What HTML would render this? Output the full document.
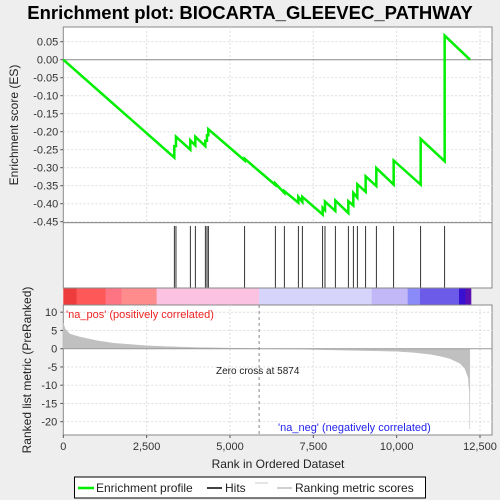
<!DOCTYPE html>
<html><head><meta charset="utf-8"><style>
body{margin:0;background:#eeeeee;}
svg{display:block;font-family:"Liberation Sans",sans-serif;}
</style></head><body>
<svg id="chart" width="500" height="500" xmlns="http://www.w3.org/2000/svg">
<rect x="0" y="0" width="500" height="500" fill="#eeeeee"/>
<text x="250" y="19" text-anchor="middle" font-size="18.5" font-weight="bold" fill="#000">Enrichment plot: BIOCARTA_GLEEVEC_PATHWAY</text>
<g id="topg"></g><g id="hitsg"></g><g id="cbarg"></g><g id="bottomg"></g>
</svg>
<script>
const hitRanks=[3330,3380,3810,3960,4260,4310,4350,5440,6360,6630,7050,7170,7780,7850,8160,8550,8700,8820,9070,9390,9910,10720,11440];
const esBefore=[-0.272,-0.240,-0.250,-0.238,-0.240,-0.225,-0.210,-0.280,-0.348,-0.370,-0.397,-0.395,-0.430,-0.418,-0.420,-0.426,-0.405,-0.383,-0.367,-0.351,-0.347,-0.347,-0.282];
const esAfter=[-0.240,-0.214,-0.224,-0.214,-0.225,-0.210,-0.193,-0.275,-0.344,-0.365,-0.381,-0.381,-0.411,-0.394,-0.391,-0.393,-0.370,-0.346,-0.324,-0.301,-0.280,-0.220,0.067];
const totalRanks=12200;
const esTicks=[0.05,0,-0.05,-0.1,-0.15,-0.2,-0.25,-0.3,-0.35,-0.4,-0.45];
const xTicks=[0,2500,5000,7500,10000,12500];
const metricRanks=[0,50,200,500,700,1000,1500,2500,3000,4000,5000,5874,7000,8000,9000,10000,10500,11000,11300,11600,11900,12050,12150,12185,12195];
const metricVals=[7,5.5,4,3.2,2.8,2.2,1.5,0.8,0.6,0.3,0.15,0,-0.1,-0.3,-0.5,-0.7,-1,-1.5,-2,-2.7,-4,-5.5,-8,-12,-22];
const metricTicks=[10,5,0,-5,-10,-15,-20];
const cbarStops=[0,400,1270,1750,2800,5870,9250,10330,10700,11870,12070,12230];
const cbarColors=['#ee3c3c','#ff5858','#ff7482','#ff8c8c','#fcc2e2','#d6d4fa','#c2b8f8','#8a8af8','#6c5ae8','#3a10d0','#5a10b0'];

const NS='http://www.w3.org/2000/svg';
const X0=63.3,X1=480;
const xs=r=>X0+(r/12500)*(X1-X0);
const ys=e=>59.7-e*360;
const ym=v=>348.7-v*3.65;
function mk(tag,attrs,parent){const el=document.createElementNS(NS,tag);for(const k in attrs)el.setAttribute(k,attrs[k]);parent.appendChild(el);return el;}
const topG=document.getElementById('topg'),hitsG=document.getElementById('hitsg'),cbG=document.getElementById('cbarg'),botG=document.getElementById('bottomg');
const L=63.3,R=492;
let p=mk('rect',{x:L,y:27,width:R-L,height:195.7,fill:'#fff',stroke:'#888'},topG);

p=mk('rect',{x:L,y:222.7,width:R-L,height:65.3,fill:'#fff',stroke:'#888'},hitsG);

p=mk('rect',{x:L,y:305,width:R-L,height:130,fill:'#fff',stroke:'#888'},botG);

xTicks.forEach(t=>{if(t>0){mk('line',{x1:xs(t),x2:xs(t),y1:27,y2:222,stroke:'#ddd','stroke-dasharray':'2,2'},topG);mk('line',{x1:xs(t),x2:xs(t),y1:305,y2:435,stroke:'#ddd','stroke-dasharray':'2,2'},botG);}});
esTicks.forEach(t=>{const y=ys(t);if(t!==0)mk('line',{x1:L,x2:R,y1:y,y2:y,stroke:'#ddd','stroke-dasharray':'2,2'},topG);
 mk('line',{x1:L-3,x2:L,y1:y,y2:y,stroke:'#555'},topG);
 const tx=mk('text',{x:L-5,y:y+4,'text-anchor':'end','font-size':11,fill:'#333'},topG);tx.textContent=t.toFixed(2);
 });
mk('line',{x1:L,x2:R,y1:ys(0),y2:ys(0),stroke:'#888'},topG);
let t=mk('text',{x:18,y:125,'text-anchor':'middle','font-size':12,fill:'#222',transform:'rotate(-90 18 125)'},topG);t.textContent='Enrichment score (ES)';

let pts=[[0,0]];hitRanks.forEach((r,i)=>{pts.push([r,esBefore[i]]);pts.push([r,esAfter[i]]);});pts.push([totalRanks,0]);
let ln=mk('polyline',{points:pts.map(q=>xs(q[0])+','+ys(q[1])).join(' '),fill:'none',stroke:'#00ee00','stroke-width':2.5},topG);

hitRanks.forEach(r=>{const h=mk('line',{x1:xs(r),x2:xs(r),y1:226,y2:288,stroke:'#000','stroke-width':0.8},hitsG);
 });
for(let i=0;i<cbarColors.length;i++){const x=xs(cbarStops[i]),w=xs(cbarStops[i+1])-x;
 const s=mk('rect',{x:x,y:288,width:w+0.3,height:17,fill:cbarColors[i]},cbG);
 }
mk('line',{x1:L,x2:R,y1:288,y2:288,stroke:'#888'},cbG);
mk('line',{x1:L,x2:R,y1:305,y2:305,stroke:'#888'},cbG);
metricTicks.forEach(v=>{const y=ym(v);if(v!==0)mk('line',{x1:L,x2:R,y1:y,y2:y,stroke:'#ddd','stroke-dasharray':'2,2'},botG);
 mk('line',{x1:L-3,x2:L,y1:y,y2:y,stroke:'#555'},botG);
 const tx=mk('text',{x:L-6,y:y+4,'text-anchor':'end','font-size':11,fill:'#333'},botG);tx.textContent=v;
 });
let mp='M'+xs(0)+','+ym(0);metricRanks.forEach((r,i)=>{mp+=' L'+xs(r)+','+ym(metricVals[i]);});mp+=' L'+xs(metricRanks[metricRanks.length-1])+','+ym(0)+'Z';
let ar=mk('path',{d:mp,fill:'#c0c0c0',stroke:'#c0c0c0','stroke-width':0.5},botG);

mk('line',{x1:L,x2:R,y1:ym(0),y2:ym(0),stroke:'#999'},botG);
mk('line',{x1:xs(5874),x2:xs(5874),y1:305,y2:435,stroke:'#888','stroke-dasharray':'3,3'},botG);
t=mk('text',{x:66,y:318,'font-size':11,fill:'#ee2222'},botG);t.textContent="'na_pos' (positively correlated)";

t=mk('text',{x:278,y:431,'font-size':11,fill:'#2222ee'},botG);t.textContent="'na_neg' (negatively correlated)";

t=mk('text',{x:216,y:374,'font-size':10,fill:'#222'},botG);t.textContent='Zero cross at 5874';

t=mk('text',{x:31,y:370,'text-anchor':'middle','font-size':12,fill:'#222',transform:'rotate(-90 31 370)'},botG);t.textContent='Ranked list metric (PreRanked)';

xTicks.forEach(v=>{const x=xs(v);mk('line',{x1:x,x2:x,y1:435,y2:438,stroke:'#555'},botG);
 const tx=mk('text',{x:x,y:450,'text-anchor':'middle','font-size':11,fill:'#333'},botG);tx.textContent=v.toLocaleString('en-US');
 });
t=mk('text',{x:278,y:468,'text-anchor':'middle','font-size':12,fill:'#222'},botG);t.textContent='Rank in Ordered Dataset';

const lg=mk('g',{},botG);

mk('rect',{x:74.5,y:477,width:351,height:21,fill:'#fff',stroke:'#000'},lg);
mk('line',{x1:78,x2:94,y1:488,y2:488,stroke:'#00ee00','stroke-width':2.5},lg);
t=mk('text',{x:96,y:492,'font-size':12,fill:'#222'},lg);t.textContent='Enrichment profile';

mk('line',{x1:207,x2:222,y1:488,y2:488,stroke:'#000','stroke-width':1.5},lg);
t=mk('text',{x:225,y:492,'font-size':12,fill:'#222'},lg);t.textContent='Hits';

mk('line',{x1:255,x2:268,y1:483,y2:483,stroke:'#ccc'},lg);
mk('line',{x1:277,x2:292,y1:488,y2:488,stroke:'#c0c0c0','stroke-width':1.5},lg);
t=mk('text',{x:295,y:492,'font-size':12,fill:'#222'},lg);t.textContent='Ranking metric scores';

</script>
</body></html>
